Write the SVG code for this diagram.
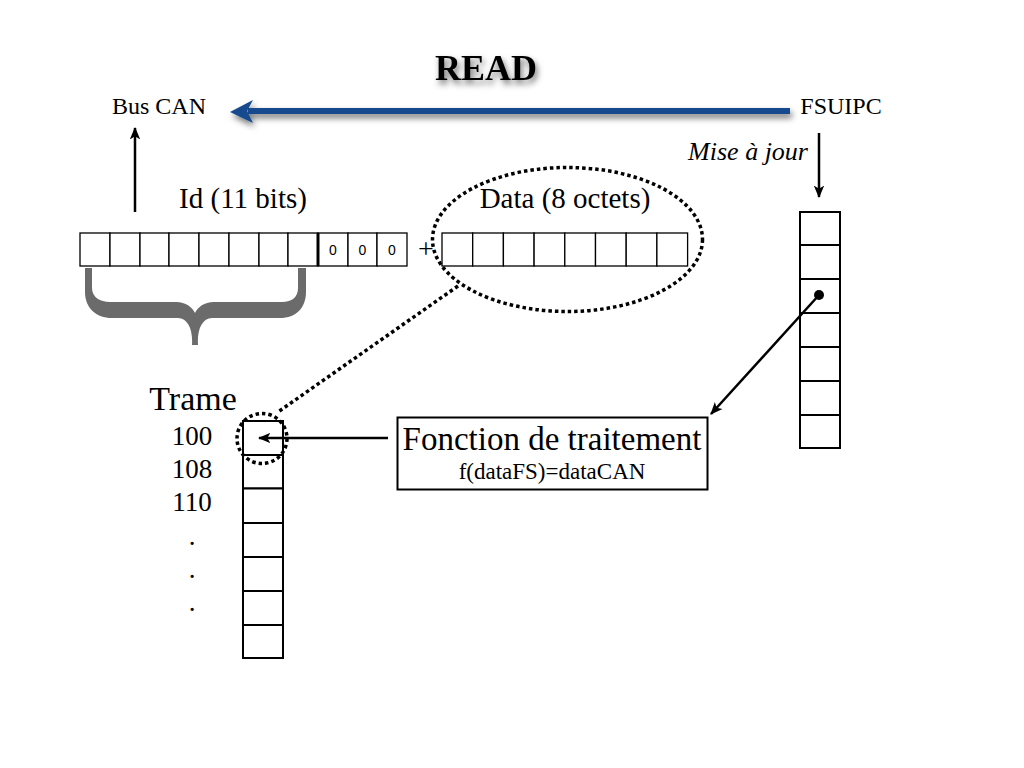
<svg xmlns="http://www.w3.org/2000/svg" width="1024" height="768" viewBox="0 0 1024 768">
<style>
.t{font-family:"Liberation Serif","Times New Roman",serif;fill:#000}
.cell{fill:#fff;stroke:#000;stroke-width:1.3}
.col{fill:#fff;stroke:#000;stroke-width:2}
.dot{fill:none;stroke:#000;stroke-width:3.5;stroke-dasharray:3.5 3}
.ln{fill:none;stroke:#000;stroke-width:2.5}
.zero{font-family:"Liberation Sans",Arial,sans-serif;font-size:14px;text-anchor:middle;fill:#000}
</style>
<defs>
<marker id="ah" viewBox="0 0 12 10" refX="11" refY="5" markerWidth="5" markerHeight="5" orient="auto" markerUnits="strokeWidth">
<path d="M0,0 L12,5 L0,10 L3,5 z" fill="#000"/>
</marker>
<filter id="sh" x="-20%" y="-50%" width="140%" height="200%">
<feDropShadow dx="2" dy="4" stdDeviation="3" flood-color="#000" flood-opacity="0.55"/>
</filter>
</defs>
<rect width="1024" height="768" fill="#fff"/>

<g id="title">
<text class="t" x="486" y="80" font-size="36" font-weight="bold" text-anchor="middle" filter="url(#sh)">READ</text>
</g>

<g id="buscan"><text class="t" x="159" y="114" font-size="24" text-anchor="middle">Bus CAN</text></g>
<g id="fsuipc"><text class="t" x="841" y="114" font-size="24" text-anchor="middle">FSUIPC</text></g>
<g id="misejour"><text class="t" x="808" y="160" font-size="26" font-style="italic" text-anchor="end">Mise à jour</text></g>

<g id="id-frame">
<text class="t" x="243" y="208" font-size="29" text-anchor="middle">Id (11 bits)</text>
<rect class="cell" x="80" y="233" width="30" height="33"/>
<rect class="cell" x="110" y="233" width="30" height="33"/>
<rect class="cell" x="140" y="233" width="29" height="33"/>
<rect class="cell" x="169" y="233" width="30" height="33"/>
<rect class="cell" x="199" y="233" width="30" height="33"/>
<rect class="cell" x="229" y="233" width="30" height="33"/>
<rect class="cell" x="259" y="233" width="29" height="33"/>
<rect class="cell" x="288" y="233" width="30" height="33"/>
<rect class="cell" x="318" y="233" width="30" height="33"/>
<rect class="cell" x="348" y="233" width="29" height="33"/>
<rect class="cell" x="377" y="233" width="30" height="33"/>
<line x1="318" y1="233" x2="318" y2="266" stroke="#000" stroke-width="3"/>
<text class="zero" x="333" y="255">0</text>
<text class="zero" x="362.5" y="255">0</text>
<text class="zero" x="392" y="255">0</text>
<path d="M85,268 L85,292 C85,308 96,318 112,318 L178,318 C188,318 193,330 192,345 L198,345 C197,330 202,318 212,318 L280,318 C296,318 306,308 306,292 L306,268 L298,268 L298,288 C298,297 292,302 282,302 L214,302 C204,302 198,307 195,313 C192,307 186,302 176,302 L110,302 C100,302 92,297 92,288 L92,268 Z" fill="#6b6b6b"/>
</g>

<g id="plus"><text class="t" x="426" y="258" font-size="28" text-anchor="middle">+</text></g>

<g id="data-frame">
<text class="t" x="565" y="208" font-size="29" text-anchor="middle">Data (8 octets)</text>
<rect class="cell" x="442" y="233" width="30.7" height="33"/>
<rect class="cell" x="472.7" y="233" width="30.7" height="33"/>
<rect class="cell" x="503.4" y="233" width="30.7" height="33"/>
<rect class="cell" x="534.1" y="233" width="30.7" height="33"/>
<rect class="cell" x="564.8" y="233" width="30.7" height="33"/>
<rect class="cell" x="595.5" y="233" width="30.7" height="33"/>
<rect class="cell" x="626.2" y="233" width="30.7" height="33"/>
<rect class="cell" x="656.9" y="233" width="30.7" height="33"/>
<ellipse class="dot" cx="567.5" cy="239.5" rx="135" ry="72"/>
</g>

<g id="trame">
<text class="t" x="193" y="410" font-size="34" text-anchor="middle">Trame</text>
<text class="t" x="192" y="445" font-size="27" text-anchor="middle">100</text>
<text class="t" x="192" y="478" font-size="27" text-anchor="middle">108</text>
<text class="t" x="192" y="511" font-size="27" text-anchor="middle">110</text>
<text class="t" x="192" y="545" font-size="27" text-anchor="middle">.</text>
<text class="t" x="192" y="578" font-size="27" text-anchor="middle">.</text>
<text class="t" x="192" y="611" font-size="27" text-anchor="middle">.</text>
<rect class="col" x="243" y="421" width="40" height="34"/>
<rect class="col" x="243" y="455" width="40" height="33.5"/>
<rect class="col" x="243" y="488.5" width="40" height="34.5"/>
<rect class="col" x="243" y="523" width="40" height="34"/>
<rect class="col" x="243" y="557" width="40" height="34"/>
<rect class="col" x="243" y="591" width="40" height="34"/>
<rect class="col" x="243" y="625" width="40" height="33"/>
<circle class="dot" cx="262" cy="438.5" r="25"/>
</g>

<g id="fonction">
<rect x="397.5" y="417.5" width="310" height="72" fill="#fff" stroke="#000" stroke-width="2"/>
<text class="t" x="552" y="450" font-size="33" text-anchor="middle">Fonction de traitement</text>
<text class="t" x="552" y="479" font-size="23" text-anchor="middle">f(dataFS)=dataCAN</text>
</g>

<g id="fsuipc-mem">
<rect class="col" x="800" y="212" width="40" height="33"/>
<rect class="col" x="800" y="245" width="40" height="34"/>
<rect class="col" x="800" y="279" width="40" height="34"/>
<rect class="col" x="800" y="313" width="40" height="34"/>
<rect class="col" x="800" y="347" width="40" height="34"/>
<rect class="col" x="800" y="381" width="40" height="34"/>
<rect class="col" x="800" y="415" width="40" height="33"/>
<circle cx="819" cy="295" r="5" fill="#000"/>
</g>

<g id="connectors">
<g filter="url(#sh)">
<line x1="790" y1="111" x2="248" y2="111" stroke="#124a8e" stroke-width="6"/>
<path d="M230,112 L253,100 L247,111 L253,123 Z" fill="#124a8e"/>
</g>
<line class="ln" x1="135" y1="212" x2="135" y2="128" marker-end="url(#ah)"/>
<line class="ln" x1="819" y1="133" x2="819" y2="197" marker-end="url(#ah)"/>
<line class="ln" x1="819" y1="295" x2="711" y2="414" marker-end="url(#ah)"/>
<line class="ln" x1="388" y1="438" x2="259" y2="438" marker-end="url(#ah)"/>
<line class="dot" x1="458" y1="286" x2="278" y2="412"/>
</g>
</svg>
